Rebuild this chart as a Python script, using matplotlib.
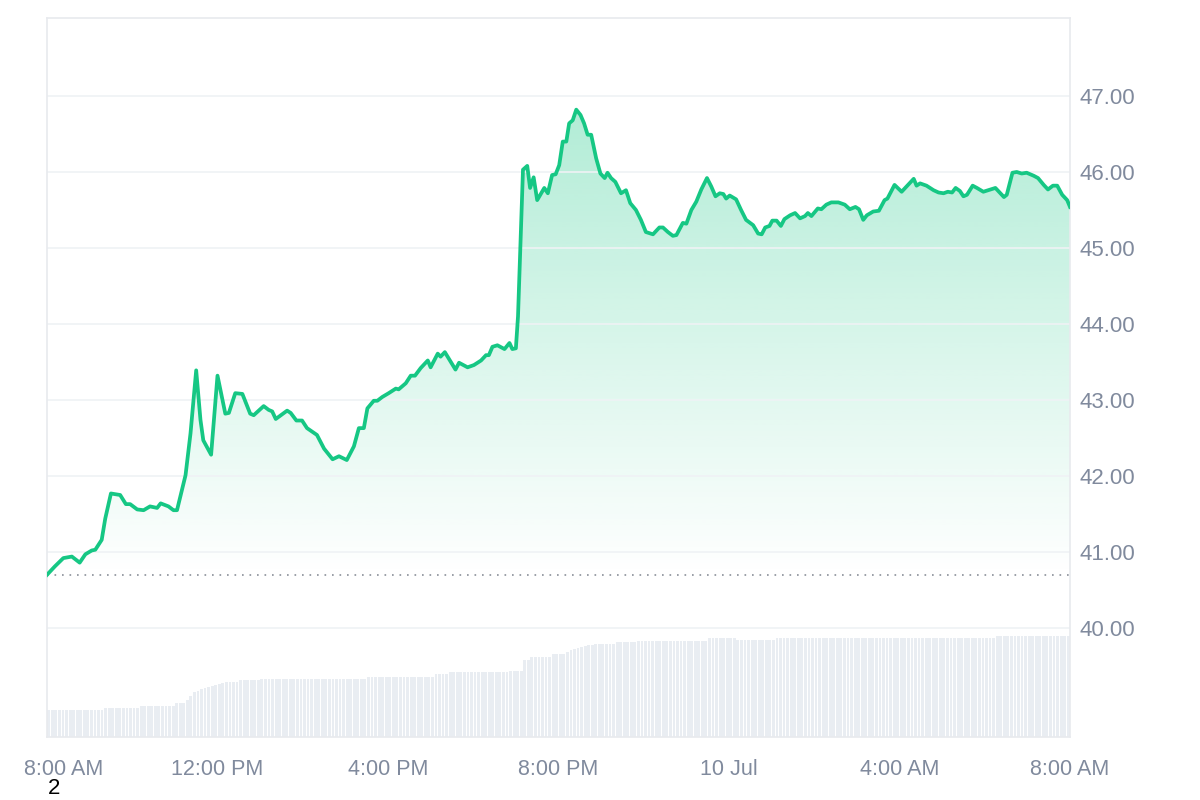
import numpy as np
import matplotlib.pyplot as plt
from matplotlib.colors import to_rgb
from matplotlib.transforms import ScaledTranslation

plt.rcParams['font.family'] = ['Liberation Sans', 'DejaVu Sans']

# minutes after 8:00 AM and price
minutes = [0, 11, 23, 35, 46, 54, 63, 68, 77, 82, 90, 103, 111, 117, 127, 136, 145, 155,
           160, 171, 178, 183, 195, 202, 210, 216, 220, 231, 240, 251, 256, 265, 275,
           286, 291, 305, 312, 317, 322, 338, 343, 351, 359, 366, 380, 390, 402, 411,
           422, 432, 439, 446, 451, 460, 465, 472, 481, 491, 495, 505, 512, 518, 526,
           536, 540, 550, 554, 560, 575, 580, 592, 601, 611, 618, 622, 627, 634, 644,
           651, 655, 660, 663, 670, 676, 680, 685, 690, 700, 705, 711, 716, 721, 726,
           731, 735, 740, 745, 751, 756, 761, 766, 773, 779, 785, 789, 794, 800, 808,
           815, 821, 829, 836, 843, 853, 862, 867, 874, 881, 886, 895, 900, 907, 914,
           921, 929, 935, 941, 947, 952, 956, 961, 970, 977, 984, 994, 1001, 1006, 1011,
           1017, 1021, 1027, 1033, 1038, 1046, 1053, 1060, 1067, 1071, 1076, 1085, 1090,
           1097, 1104, 1114, 1123, 1130, 1138, 1143, 1149, 1154, 1163, 1171, 1179, 1183,
           1193, 1203, 1212, 1220, 1224, 1229, 1238, 1248, 1255, 1262, 1268, 1274, 1279,
           1285, 1290, 1295, 1303, 1309, 1318, 1328, 1335, 1339, 1347, 1351, 1359, 1365,
           1372, 1379, 1389, 1395, 1403, 1409, 1416, 1422, 1429, 1436, 1440]
prices = [40.70, 40.81, 40.92, 40.94, 40.86, 40.97, 41.02, 41.03, 41.16, 41.44, 41.77, 41.75,
          41.63, 41.63, 41.56, 41.55, 41.60, 41.58, 41.64, 41.60, 41.55, 41.55, 42.01, 42.56,
          43.39, 42.74, 42.47, 42.28, 43.32, 42.82, 42.83, 43.09, 43.08,
          42.82, 42.80, 42.92, 42.87, 42.85, 42.75, 42.86, 42.83, 42.73, 42.73, 42.63, 42.54,
          42.36, 42.22, 42.26, 42.21, 42.39, 42.63, 42.63, 42.89, 42.99, 42.99, 43.04, 43.09,
          43.15, 43.14, 43.22, 43.32, 43.32, 43.42, 43.52, 43.43, 43.61, 43.57, 43.63, 43.40,
          43.49, 43.43, 43.46, 43.52, 43.59, 43.59, 43.70, 43.72, 43.67, 43.75, 43.67, 43.68,
          44.10, 46.03, 46.08, 45.79, 45.93, 45.63, 45.79, 45.72, 45.96, 45.97, 46.09, 46.40,
          46.40, 46.64, 46.68, 46.82, 46.75, 46.64, 46.49, 46.49, 46.18, 45.98, 45.92, 45.99,
          45.92, 45.87, 45.72, 45.76, 45.59, 45.50, 45.37, 45.21, 45.18, 45.27, 45.27, 45.21,
          45.16, 45.17, 45.33, 45.32, 45.50, 45.61, 45.77, 45.92, 45.81, 45.68, 45.72, 45.71,
          45.65, 45.69, 45.64, 45.50, 45.37, 45.30, 45.19, 45.18, 45.27, 45.29, 45.36, 45.36,
          45.29, 45.38, 45.43, 45.46, 45.39, 45.42, 45.46, 45.42, 45.52, 45.51, 45.57, 45.60,
          45.60, 45.57, 45.51, 45.54, 45.51, 45.37, 45.43, 45.48, 45.49, 45.63, 45.65, 45.83,
          45.74, 45.83, 45.91, 45.82, 45.85, 45.82, 45.76, 45.73, 45.72, 45.74, 45.73, 45.79,
          45.75, 45.68, 45.70, 45.82, 45.79, 45.74, 45.77, 45.79, 45.75, 45.67, 45.70, 45.99,
          46.00, 45.98, 45.99, 45.95, 45.92, 45.83, 45.77, 45.82, 45.82, 45.70, 45.63, 45.54]
open_price = 40.70

# volume per 5-minute bar: (level, number of bars)
vol_levels = [27, 28.7, 30.7, 34, 37, 41, 45, 46, 48, 49, 50, 51, 52, 53, 54, 55, 55, 55, 55,
              57, 58.3, 60.3, 63, 65, 66.3, 77, 80.3, 83, 85, 87, 88, 89, 90, 91, 92, 92,
              93, 94.7, 96.3, 98.7, 97, 98.7, 101]
vol_counts = [16, 10, 10, 3, 1, 1, 1, 1, 1, 1, 1, 1, 1, 1, 1, 1, 1, 1, 1,
              6, 30, 19, 4, 17, 4, 2, 6, 4, 1, 1, 1, 1, 1, 1, 1, 1,
              6, 6, 20, 8, 11, 62, 21]
volume = np.repeat(vol_levels, vol_counts)

tick_minutes = [0, 240, 480, 720, 960, 1200, 1440]
tick_labels = ['8:00 AM', '12:00 PM', '4:00 PM', '8:00 PM', '10 Jul', '4:00 AM', '8:00 AM']
price_ticks = [40, 41, 42, 43, 44, 45, 46, 47]

green = '#16c784'
grey_text = '#808a9d'
rect = [47 / 1200, 1 - 737 / 800, 1023 / 1200, 719 / 800]

fig = plt.figure(figsize=(12, 8), dpi=100)

# volume in background
axv = fig.add_axes(rect, zorder=0)
bar_x = np.arange(len(volume)) * 5 + 2.5
axv.bar(bar_x, volume, width=4.0, color='#e9edf2', linewidth=0)
axv.set_xlim(0, 1440)
axv.set_ylim(0, 719)
axv.axis('off')

ax = fig.add_axes(rect, zorder=1)
ax.patch.set_alpha(0)
ax.set_xlim(0, 1440)
ax.set_ylim(38.566, 48.026)

# gradient fill under the line
poly = ax.fill_between(minutes, prices, open_price, color='none', linewidth=0)
top, bot = 47.0, open_price
n = 256
alpha = np.linspace(0.34, 0.0, n).reshape(n, 1)
grad = np.zeros((n, 1, 4))
grad[..., :3] = to_rgb(green)
grad[..., 3] = alpha
img = ax.imshow(grad, extent=[0, 1440, bot, top], aspect='auto', origin='upper',
                zorder=1, interpolation='bilinear')
img.set_clip_path(poly.get_paths()[0], transform=ax.transData)

ax.plot(minutes, prices, color=green, lw=2.7, zorder=3, solid_joinstyle='round')
ax.axhline(open_price, color='#8a8f98', lw=1.2, ls=(0, (1, 3.5)), zorder=2)

ax.set_yticks(price_ticks)
ax.set_yticklabels([f'{p:.2f}' for p in price_ticks])
ax.yaxis.tick_right()
ax.tick_params(axis='y', length=0, pad=7, labelsize=16, labelcolor=grey_text)
ax.set_xticks(tick_minutes)
ax.set_xticklabels(tick_labels)
ax.tick_params(axis='x', length=0, pad=16, labelsize=15.5, labelcolor=grey_text)
ax.grid(axis='y', color='#eff2f5', lw=1.2, zorder=0)

# first label is kept inside the chart edge
first = ax.get_xticklabels()[0]
first.set_transform(first.get_transform() + ScaledTranslation(17 / 100, 0, fig.dpi_scale_trans))

for side in ['left', 'right', 'top', 'bottom']:
    ax.spines[side].set_color('#e8eaee')
    ax.spines[side].set_linewidth(1.2)

fig.text(54 / 1200, 1 - 789 / 800, '2', ha='center', va='center', fontsize=16, color='black')

fig.savefig('out.png', dpi=100)
